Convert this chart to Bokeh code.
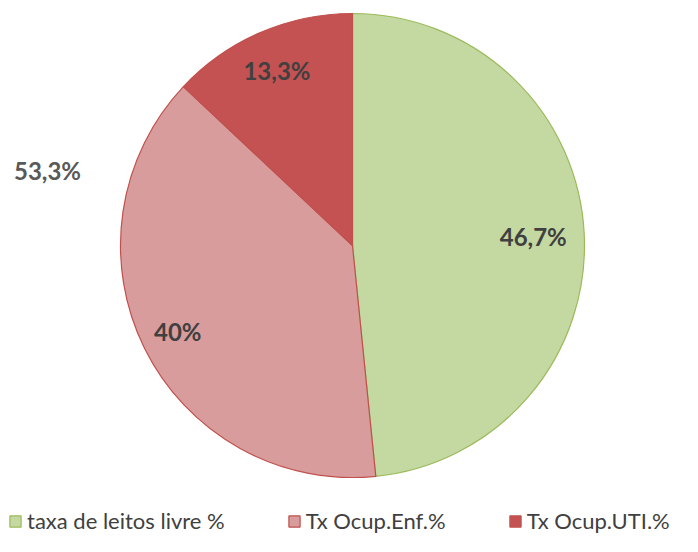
import math
from bokeh.plotting import figure
from bokeh.models import ColumnDataSource, Range1d, Label, Legend, LegendItem
from bokeh.embed import file_html
from bokeh.resources import INLINE

# data
categories = ["taxa de leitos livre %", "Tx Ocup.Enf.%", "Tx Ocup.UTI.%"]
shares = [48.4, 38.6, 13.0]          # slice sizes as drawn
labels = ["46,7%", "40%", "13,3%"]   # data labels as printed
extra_label = "53,3%"

# styles
fills = ["#c4d8a2", "#d89c9c", "#c55252"]
lines = ["#9bbb59", "#c0504d", "#c0504d"]
label_r = [0.78, 0.84, 0.82]

W, H = 682, 536
p = figure(width=W, height=H, output_backend="svg", toolbar_location=None,
           x_range=Range1d(0, W), y_range=Range1d(0, H), min_border=0,
           outline_line_color=None)
p.axis.visible = False
p.grid.visible = False

cx, cy, R = 352, H - 245, 232
total = sum(shares)
starts, ends, mids = [], [], []
acc = 0.0
for s in shares:
    a0 = math.pi / 2 - 2 * math.pi * acc / total
    acc += s
    a1 = math.pi / 2 - 2 * math.pi * acc / total
    starts.append(a0); ends.append(a1); mids.append((a0 + a1) / 2)

src = ColumnDataSource(dict(cat=categories, start=starts, end=ends,
                            fill=fills, line=lines))
r = p.wedge(x=cx, y=cy, radius=R, start_angle="start", end_angle="end",
            direction="clock", fill_color="fill", line_color="line",
            line_width=1.2, source=src)

for lab, m, f in zip(labels, mids, label_r):
    p.add_layout(Label(x=cx + f * R * math.cos(m), y=cy + f * R * math.sin(m),
                       text=lab, text_align="center", text_baseline="middle",
                       text_font="Lato", text_font_style="bold",
                       text_font_size="24px", text_color="#404040"))

p.add_layout(Label(x=47, y=H - 170, text=extra_label, text_align="center",
                   text_baseline="middle", text_font="Lato",
                   text_font_style="bold", text_font_size="24px",
                   text_color="#595959"))

items = [LegendItem(label=c, renderers=[r], index=i) for i, c in enumerate(categories)]
legend = Legend(items=items, orientation="horizontal", location=(8, 2),
                spacing=62, glyph_width=14, glyph_height=14, label_standoff=5,
                padding=0, margin=0, border_line_alpha=0, background_fill_alpha=0,
                label_text_font="Lato", label_text_font_size="22px",
                label_text_color="#404040")
p.add_layout(legend, "center")

open("out.html", "w").write(file_html(p, INLINE))
